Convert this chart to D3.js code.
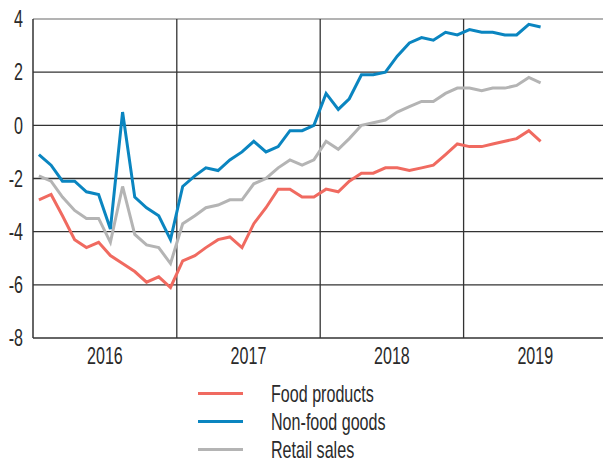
<!DOCTYPE html>
<html>
<head>
<meta charset="utf-8">
<script src="https://cdn.jsdelivr.net/npm/d3@7"></script>
<style>
  body { margin: 0; background: #fff; }
  svg text { font-family: "Liberation Sans", "Arial", sans-serif; fill: #2a2a2a; }
</style>
</head>
<body>
<div id="chart"></div>
<script>
// monthly values, Jan 2016 .. Jul 2019
var startMonth = new Date(2016, 0, 1);
var foodProducts = [-2.8, -2.6, -3.4, -4.3, -4.6, -4.4, -4.9, -5.2, -5.5, -5.9, -5.7, -6.1,
                    -5.1, -4.9, -4.6, -4.3, -4.2, -4.6, -3.7, -3.1, -2.4, -2.4, -2.7, -2.7,
                    -2.4, -2.5, -2.1, -1.8, -1.8, -1.6, -1.6, -1.7, -1.6, -1.5, -1.1, -0.7,
                    -0.8, -0.8, -0.7, -0.6, -0.5, -0.2, -0.6];
var nonFoodGoods = [-1.1, -1.5, -2.1, -2.1, -2.5, -2.6, -3.9, 0.5, -2.7, -3.1, -3.4, -4.3,
                    -2.3, -1.9, -1.6, -1.7, -1.3, -1.0, -0.6, -1.0, -0.8, -0.2, -0.2, 0.0,
                    1.2, 0.6, 1.0, 1.9, 1.9, 2.0, 2.6, 3.1, 3.3, 3.2, 3.5, 3.4,
                    3.6, 3.5, 3.5, 3.4, 3.4, 3.8, 3.7];
var retailSales = [-1.9, -2.1, -2.7, -3.2, -3.5, -3.5, -4.4, -2.3, -4.1, -4.5, -4.6, -5.2,
                   -3.7, -3.4, -3.1, -3.0, -2.8, -2.8, -2.2, -2.0, -1.6, -1.3, -1.5, -1.3,
                   -0.6, -0.9, -0.5, 0.0, 0.1, 0.2, 0.5, 0.7, 0.9, 0.9, 1.2, 1.4,
                   1.4, 1.3, 1.4, 1.4, 1.5, 1.8, 1.6];
var seriesNames = ["Food products", "Non-food goods", "Retail sales"];
var seriesColors = ["#f06a60", "#0a85c0", "#b4b4b4"];
var yTicks = [-8, -6, -4, -2, 0, 2, 4];
var years = [2016, 2017, 2018, 2019];

var W = 603, H = 462;
var narrow = 0.7;   // squeeze text to mimic a condensed face
var fontPx = "23px";
var svg = d3.select("#chart").append("svg")
  .attr("width", W).attr("height", H);

var x = d3.scaleTime()
  .domain([new Date(2016, 0, 1), new Date(2020, 0, 1)])
  .range([33, 607]);
var y = d3.scaleLinear().domain([-8, 4]).range([338, 19]);

// mid-month position of each observation
function monthDate(i) {
  return d3.timeDay.offset(d3.timeMonth.offset(startMonth, i), 15);
}

// horizontal grid
svg.selectAll("line.hgrid")
  .data(yTicks)
  .enter().append("line")
    .attr("class", "hgrid")
    .attr("x1", 33).attr("x2", W)
    .attr("y1", function(d) { return y(d); })
    .attr("y2", function(d) { return y(d); })
    .attr("stroke", function(d) { return d == 4 ? "#9a9a9a" : "#333"; })
    .attr("stroke-width", 1.3);

// year separators
svg.selectAll("line.vgrid")
  .data(years.slice(1))
  .enter().append("line")
    .attr("class", "vgrid")
    .attr("x1", function(d) { return x(new Date(d, 0, 1)); })
    .attr("x2", function(d) { return x(new Date(d, 0, 1)); })
    .attr("y1", y(4)).attr("y2", y(-8))
    .attr("stroke", "#333")
    .attr("stroke-width", 1.3);

// left axis line
svg.append("line")
  .attr("x1", 33).attr("x2", 33)
  .attr("y1", y(4)).attr("y2", y(-8))
  .attr("stroke", "#333").attr("stroke-width", 1.5);

// y labels
svg.selectAll("text.ylab")
  .data(yTicks)
  .enter().append("text")
    .attr("class", "ylab")
    .attr("transform", function(d) { return "translate(23," + y(d) + ") scale(" + narrow + ",1)"; })
    .attr("dy", "0.36em")
    .attr("text-anchor", "end")
    .style("font-size", fontPx)
    .text(function(d) { return d; });

// year labels, centred in each year
svg.selectAll("text.xlab")
  .data(years)
  .enter().append("text")
    .attr("class", "xlab")
    .attr("transform", function(d) {
      var cx = (x(new Date(d, 0, 1)) + x(new Date(d + 1, 0, 1))) / 2;
      return "translate(" + cx + ",364) scale(" + narrow + ",1)";
    })
    .attr("text-anchor", "middle")
    .style("font-size", fontPx)
    .text(function(d) { return d; });

// series lines
var allSeries = [foodProducts, nonFoodGoods, retailSales];
var line = d3.line()
  .x(function(d, i) { return x(monthDate(i)); })
  .y(function(d) { return y(d); });

// draw grey first, then red, blue on top
[2, 0, 1].forEach(function(k) {
  svg.append("path")
    .attr("d", line(allSeries[k]))
    .attr("fill", "none")
    .attr("stroke", seriesColors[k])
    .attr("stroke-width", 3)
    .attr("stroke-linejoin", "miter");
});

// legend
var lg = svg.selectAll("g.legend")
  .data(seriesNames)
  .enter().append("g")
    .attr("class", "legend")
    .attr("transform", function(d, i) { return "translate(198," + (393.5 + i * 28) + ")"; });
lg.append("line")
  .attr("x1", 0).attr("x2", 45)
  .attr("stroke", function(d, i) { return seriesColors[i]; })
  .attr("stroke-width", 3);
lg.append("text")
  .attr("transform", "translate(73,0) scale(" + narrow + ",1)")
  .attr("dy", "0.36em")
  .style("font-size", fontPx)
  .text(function(d) { return d; });
</script>
</body>
</html>
